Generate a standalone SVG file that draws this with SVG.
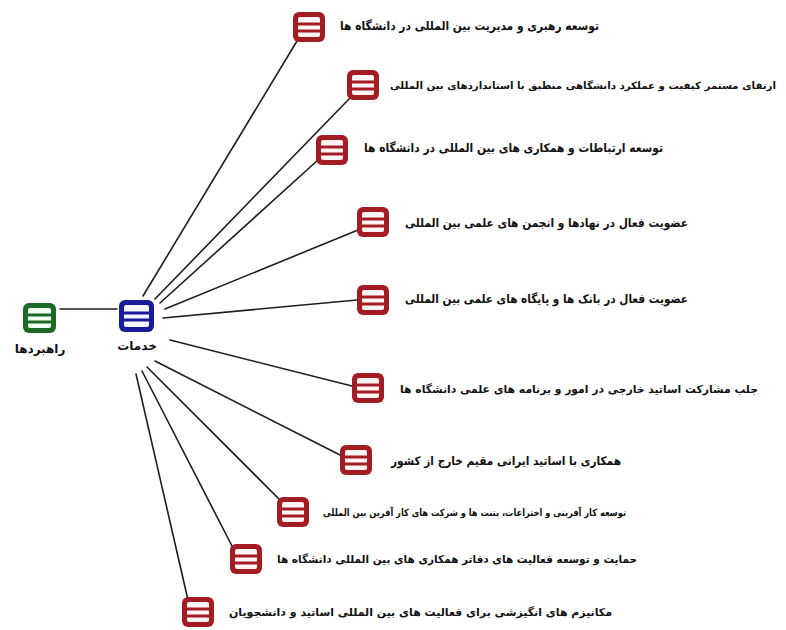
<svg xmlns="http://www.w3.org/2000/svg" width="786" height="630" viewBox="0 0 786 630">
<style>
.bg{fill:#ffffff}
.lk{stroke:#1e1e1e;stroke-width:1.6;fill:none;stroke-linecap:round}
.txt{font-family:"DejaVu Sans",sans-serif;font-weight:bold;font-size:12px;fill:#111}
.sm{font-size:11px}
.xs{font-size:10px}
.lbl{font-family:"DejaVu Sans",sans-serif;font-weight:bold;font-size:12px;fill:#111;text-anchor:middle}
.ro{fill:#a31c24}
.ri{fill:#fff3f3}
.rl{stroke:#a31c24;stroke-width:3}
.bo{fill:#1b1b9a}
.bi{fill:#f4f4ff}
.bl{stroke:#1b1b9a;stroke-width:3}
.go{fill:#1d6a27}
.gi{fill:#f3fff3}
.gl{stroke:#1d6a27;stroke-width:3}
</style>
<defs>
<g id="ired">
<rect class="ro" x="-16" y="-15" width="32" height="30" rx="6"/>
<rect class="ri" x="-11" y="-10" width="22" height="20" rx="2"/>
<line class="rl" x1="-11" y1="-3" x2="11" y2="-3"/>
<line class="rl" x1="-11" y1="4" x2="11" y2="4"/>
</g>
</defs>
<rect class="bg" x="0" y="0" width="786" height="630"/>
<g id="connectors">
<line class="lk" x1="60" y1="309" x2="117" y2="309"/>
<line class="lk" x1="143" y1="296" x2="297" y2="41"/>
<line class="lk" x1="155" y1="299" x2="350" y2="98"/>
<line class="lk" x1="160" y1="303" x2="318" y2="160"/>
<line class="lk" x1="165" y1="309" x2="358" y2="230"/>
<line class="lk" x1="163" y1="318" x2="357" y2="300"/>
<line class="lk" x1="170" y1="340" x2="352" y2="386"/>
<line class="lk" x1="155" y1="361" x2="342" y2="456"/>
<line class="lk" x1="147" y1="367" x2="280" y2="500"/>
<line class="lk" x1="142" y1="371" x2="233" y2="548"/>
<line class="lk" x1="136" y1="374" x2="188" y2="600"/>
</g>
<g id="n-strategies">
<rect class="go" x="23" y="303" width="33" height="30" rx="6"/>
<rect class="gi" x="28" y="308" width="23" height="20" rx="2"/>
<line class="gl" x1="28" y1="315" x2="51" y2="315"/>
<line class="gl" x1="28" y1="322" x2="51" y2="322"/>
<text class="lbl" x="40" y="353">راهبردها</text>
</g>
<g id="n-services">
<rect class="bo" x="119" y="300" width="35" height="32" rx="6"/>
<rect class="bi" x="124" y="305" width="25" height="22" rx="2"/>
<line class="bl" x1="124" y1="313" x2="149" y2="313"/>
<line class="bl" x1="124" y1="320" x2="149" y2="320"/>
<text class="lbl" x="137" y="350">خدمات</text>
</g>
<g id="n1"><use href="#ired" x="309" y="27"/><text class="txt" x="340" y="30" textLength="259" lengthAdjust="spacingAndGlyphs">توسعه رهبری و مدیریت بین المللی در دانشگاه ها</text></g>
<g id="n2"><use href="#ired" x="363" y="85"/><text class="txt xs" x="390" y="89" textLength="386" lengthAdjust="spacingAndGlyphs">ارتقای مستمر کیفیت و عملکرد دانشگاهی منطبق با استانداردهای بین المللی</text></g>
<g id="n3"><use href="#ired" x="332" y="150"/><text class="txt" x="364" y="152" textLength="299" lengthAdjust="spacingAndGlyphs">توسعه ارتباطات و همکاری های بین المللی در دانشگاه ها</text></g>
<g id="n4"><use href="#ired" x="373" y="222"/><text class="txt" x="405" y="227" textLength="283" lengthAdjust="spacingAndGlyphs">عضویت فعال در نهادها و انجمن های علمی بین المللی</text></g>
<g id="n5"><use href="#ired" x="373" y="300"/><text class="txt" x="405" y="303" textLength="283" lengthAdjust="spacingAndGlyphs">عضویت فعال در بانک ها و پایگاه های علمی بین المللی</text></g>
<g id="n6"><use href="#ired" x="368" y="388"/><text class="txt sm" x="400" y="393" textLength="358" lengthAdjust="spacingAndGlyphs">جلب مشارکت اساتید خارجی در امور و برنامه های علمی دانشگاه ها</text></g>
<g id="n7"><use href="#ired" x="356" y="460"/><text class="txt" x="391" y="465" textLength="230" lengthAdjust="spacingAndGlyphs">همکاری با اساتید ایرانی مقیم خارج از کشور</text></g>
<g id="n8"><use href="#ired" x="293" y="512"/><text class="txt xs" x="323" y="516" textLength="303" lengthAdjust="spacingAndGlyphs">توسعه کار آفرینی و اختراعات، پتنت ها و شرکت های کار آفرین بین المللی</text></g>
<g id="n9"><use href="#ired" x="246" y="559"/><text class="txt sm" x="277" y="563" textLength="360" lengthAdjust="spacingAndGlyphs">حمایت و توسعه فعالیت های دفاتر همکاری های بین المللی دانشگاه ها</text></g>
<g id="n10"><use href="#ired" x="198" y="612"/><text class="txt sm" x="229" y="616" textLength="383" lengthAdjust="spacingAndGlyphs">مکانیزم های انگیزشی برای فعالیت های بین المللی اساتید و دانشجویان</text></g>
</svg>
